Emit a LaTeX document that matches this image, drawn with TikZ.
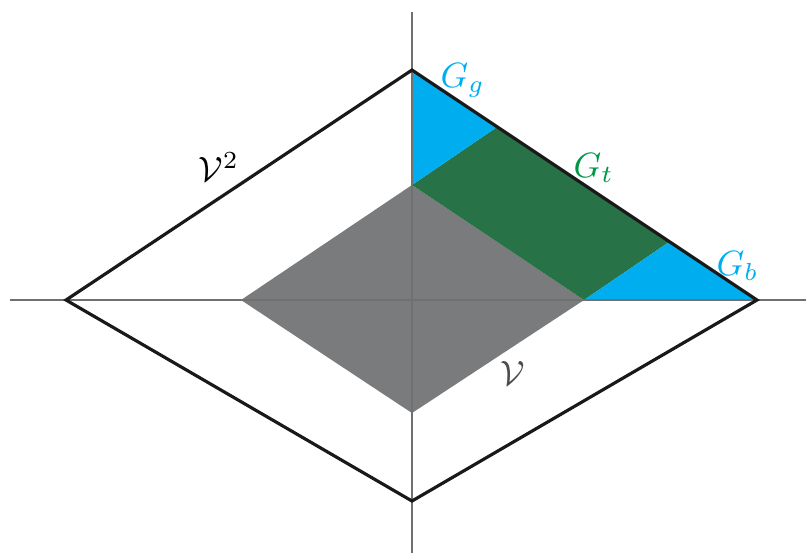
\documentclass[tikz,border=0pt]{standalone}
\usepackage{amsmath}
\usetikzlibrary{positioning}

\definecolor{gcyan}{RGB}{0,174,239}
\definecolor{gdark}{RGB}{39,114,70}
\definecolor{glabel}{RGB}{0,150,70}
\definecolor{vgray}{RGB}{122,123,125}
\definecolor{axgray}{RGB}{112,112,112}

\begin{document}
\begin{tikzpicture}[
  x=0.01cm, y=-0.01cm,
  axis/.style={draw=axgray, line width=0.6pt},
  rim/.style={draw=black!90, line width=0.9pt, line join=miter},
  lbl/.style={anchor=base west, inner sep=0pt}
]
\useasboundingbox (0,0) rectangle (806,553);

% outer and inner corners
\coordinate (L) at (66,300);
\coordinate (T) at (412,70);
\coordinate (R) at (757,300);
\coordinate (B) at (412,501);
\coordinate (l) at (241,300);
\coordinate (t) at (412,185);
\coordinate (r) at (584,300);
\coordinate (b) at (412,413);
\coordinate (p) at (497,127);
\coordinate (q) at (669,242);

% regions
\fill[vgray] (l) -- (t) -- (r) -- (b) -- cycle;
\fill[gdark] (t) -- (p) -- (q) -- (r) -- cycle;
\fill[gcyan] (T) -- (p) -- (t) -- cycle;
\fill[gcyan] (q) -- (R) -- (r) -- cycle;

% axes
\draw[axis] (10,300) -- (806,300);
\draw[axis] (412,12) -- (412,553);

% outer diamond
\draw[rim] (L) -- (T) -- (R) -- (B) -- cycle;

% labels
\node[lbl, text=gcyan] (gg) at (440,87) {$G_g$};
\node[lbl, text=glabel] (gt) at (573,177) {$G_t$};
\node[lbl, text=gcyan] (gb) at (716,275) {$G_b$};
\node[lbl] (v2) at (198,181) {$\mathcal{V}^2$};
\node[lbl, text=black!70] (v) at (500,385) {$\mathcal{V}$};
\end{tikzpicture}
\end{document}
